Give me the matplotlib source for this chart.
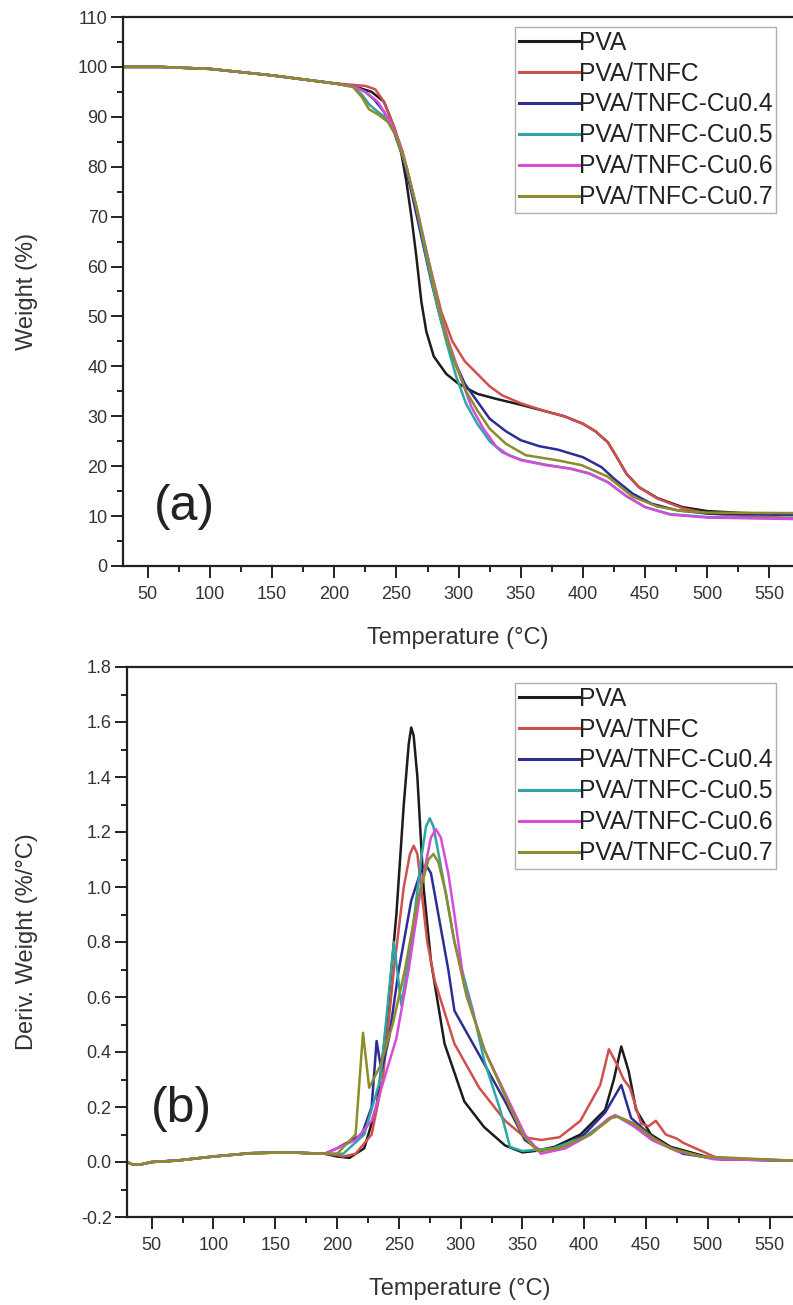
import numpy as np
import matplotlib
matplotlib.use('Agg')
import matplotlib.pyplot as plt
import matplotlib.ticker as ticker

plt.rcParams['font.family'] = ['Liberation Sans', 'DejaVu Sans']

#------------------------------------------------------------------------------
# Datos -----------------------------------------------------------------------

etiquetas = ['PVA', 'PVA/TNFC', 'PVA/TNFC-Cu0.4', 'PVA/TNFC-Cu0.5',
             'PVA/TNFC-Cu0.6', 'PVA/TNFC-Cu0.7']
colores = ['#1c1c1c', '#d0504f', '#2d2d96', '#2ea6a6', '#d84bd8', '#8c8c2a']

# TGA: tramo comun al inicio
T_ini = [30, 60, 100, 150, 200]
W_ini = [100, 100, 99.6, 98.3, 96.7]

T_pva = [215, 230, 240, 248, 253, 258, 262, 266, 270, 274, 280, 290, 300, 315, 330, 350, 370,
         385, 400, 410, 420, 428, 435, 445, 460, 480, 500, 530, 570]
W_pva = [96.2, 95, 93, 88, 84, 77, 70, 62, 53, 47, 42, 38.5, 36.5, 34.5, 33.5, 32.3, 31,
         30, 28.5, 27, 24.8, 21.5, 18.5, 15.8, 13.6, 11.8, 11, 10.6, 10.4]
T_tnfc = [215, 225, 233, 240, 248, 255, 262, 270, 278, 286, 295, 305, 315, 325, 335, 350, 370,
          385, 400, 410, 420, 428, 435, 445, 460, 480, 500, 530, 570]
W_tnfc = [96.4, 96.2, 95.5, 93, 88, 83, 76, 67, 59, 51, 45, 41, 38.5, 36, 34.2, 32.6, 31,
          30, 28.5, 27, 24.8, 21.5, 18.5, 15.8, 13.5, 11.6, 10.5, 10, 9.6]
T_cu04 = [215, 225, 232, 240, 248, 255, 262, 270, 278, 286, 295, 305, 315, 325, 338, 350, 365,
          380, 400, 415, 425, 440, 455, 475, 500, 570]
W_cu04 = [96.2, 95, 93.5, 91, 87, 82, 75, 66, 57, 49, 42, 36.5, 33, 29.5, 27, 25.2, 24,
          23.3, 21.8, 19.8, 17.5, 14.5, 12.5, 11.2, 10.5, 10.2]
T_cu05 = [215, 222, 228, 235, 243, 250, 258, 266, 274, 282, 290, 298, 306, 315, 325, 335, 350,
          370, 390, 405, 420, 435, 450, 470, 500, 570]
W_cu05 = [96, 94.5, 92.5, 91, 89.5, 86, 80, 72, 62, 53, 45, 38, 32.5, 28.5, 25, 22.8, 21.3,
          20.3, 19.5, 18.5, 16.8, 14, 11.8, 10.4, 9.8, 9.5]
T_cu06 = [215, 225, 235, 245, 252, 260, 268, 276, 284, 292, 300, 310, 320, 330, 340, 350, 370,
          390, 405, 420, 435, 450, 470, 500, 570]
W_cu06 = [96.2, 95, 93, 89, 85, 78, 70, 61, 52, 45, 39, 32, 27.5, 24, 22.2, 21.2, 20.2,
          19.5, 18.6, 16.8, 14, 11.8, 10.3, 9.7, 9.4]
T_cu07 = [215, 222, 228, 235, 243, 250, 258, 266, 274, 282, 290, 298, 306, 315, 325, 338, 354,
          379, 399, 420, 440, 460, 480, 500, 570]
W_cu07 = [96, 94, 91.5, 90.5, 89, 86, 80, 72, 63, 54, 46, 40, 35, 31.2, 27.5, 24.5, 22.2,
          21.2, 20.2, 17.9, 13.9, 11.9, 11, 10.7, 10.6]

# DTG: tramo comun al inicio
Td_ini = [30, 35, 40, 50, 70, 100, 130, 160, 190]
D_ini = [0.0, -0.01, -0.01, 0.0, 0.005, 0.02, 0.032, 0.035, 0.03]

Td_pva = [200, 210, 222, 232, 240, 248, 254, 258, 260, 262, 265, 270, 276, 287, 303, 319, 336,
          350, 360, 376, 397, 417, 424, 430, 436, 442, 454, 470, 500, 540, 570]
D_pva = [0.02, 0.015, 0.05, 0.2, 0.5, 0.9, 1.3, 1.52, 1.58, 1.55, 1.4, 1.0, 0.73, 0.43, 0.22,
         0.127, 0.06, 0.035, 0.04, 0.055, 0.1, 0.19, 0.3, 0.42, 0.33, 0.19, 0.1, 0.055, 0.018,
         0.008, 0.005]
Td_tnfc = [200, 205, 215, 228, 237, 246, 254, 259, 262, 265, 268, 273, 279, 295, 315, 336, 352,
           365, 380, 397, 413, 420, 426, 432, 437, 446, 452, 458, 466, 475, 480, 500, 510, 570]
D_tnfc = [0.025, 0.02, 0.03, 0.1, 0.3, 0.7, 1.0, 1.12, 1.15, 1.12, 1.0, 0.8, 0.66, 0.43, 0.27,
          0.15, 0.09, 0.08, 0.09, 0.15, 0.28, 0.41, 0.36, 0.3, 0.27, 0.14, 0.13, 0.15, 0.1,
          0.085, 0.07, 0.03, 0.01, 0.005]
Td_cu04 = [200, 220, 228, 232, 236, 242, 250, 260, 268, 272, 276, 282, 290, 295, 315, 336, 352,
           365, 385, 400, 417, 430, 438, 458, 480, 510, 570]
D_cu04 = [0.05, 0.1, 0.2, 0.44, 0.33, 0.45, 0.7, 0.95, 1.06, 1.08, 1.05, 0.9, 0.7, 0.55, 0.39,
          0.22, 0.08, 0.04, 0.06, 0.1, 0.18, 0.28, 0.16, 0.08, 0.03, 0.01, 0.005]
Td_cu05 = [205, 222, 235, 246, 252, 260, 268, 272, 275, 278, 283, 295, 310, 319, 332, 340, 350,
           375, 400, 418, 425, 440, 455, 475, 500, 570]
D_cu05 = [0.03, 0.1, 0.3, 0.8, 0.57, 0.8, 1.1, 1.22, 1.25, 1.22, 1.1, 0.8, 0.55, 0.37, 0.19,
          0.055, 0.04, 0.05, 0.09, 0.15, 0.17, 0.14, 0.08, 0.04, 0.015, 0.005]
Td_cu06 = [200, 215, 228, 238, 248, 258, 268, 276, 280, 284, 290, 295, 303, 319, 336, 352, 365,
           385, 405, 420, 425, 440, 455, 475, 505, 570]
D_cu06 = [0.05, 0.08, 0.15, 0.3, 0.45, 0.7, 1.0, 1.18, 1.21, 1.18, 1.05, 0.9, 0.64, 0.41, 0.25,
          0.1, 0.03, 0.05, 0.1, 0.16, 0.17, 0.13, 0.08, 0.04, 0.01, 0.005]
Td_cu07 = [200, 215, 221, 226, 235, 245, 255, 265, 274, 278, 282, 288, 295, 305, 320, 336, 350,
           362, 380, 405, 422, 427, 440, 455, 470, 495, 570]
D_cu07 = [0.03, 0.1, 0.47, 0.27, 0.35, 0.5, 0.7, 0.95, 1.1, 1.12, 1.09, 0.98, 0.8, 0.6, 0.4,
          0.24, 0.1, 0.04, 0.05, 0.1, 0.16, 0.165, 0.14, 0.09, 0.05, 0.02, 0.005]

tga_T = [T_pva, T_tnfc, T_cu04, T_cu05, T_cu06, T_cu07]
tga_W = [W_pva, W_tnfc, W_cu04, W_cu05, W_cu06, W_cu07]
dtg_T = [Td_pva, Td_tnfc, Td_cu04, Td_cu05, Td_cu06, Td_cu07]
dtg_D = [D_pva, D_tnfc, D_cu04, D_cu05, D_cu06, D_cu07]

#------------------------------------------------------------------------------
# Figura ----------------------------------------------------------------------

W_px, H_px = 793., 1305.
fig = plt.figure(figsize=(W_px / 100, H_px / 100), dpi=100)
ax1 = fig.add_axes([123 / W_px, 1 - 566 / H_px, 1 - 123 / W_px, (566 - 17) / H_px])
ax2 = fig.add_axes([127 / W_px, 1 - 1217 / H_px, 1 - 127 / W_px, (1217 - 667) / H_px])

gris = '#333333'

def formato(ax):
    ax.spines['right'].set_visible(False)
    for s in ['top', 'bottom', 'left']:
        ax.spines[s].set_linewidth(1.6)
        ax.spines[s].set_color('#222222')
    ax.tick_params(which='both', direction='out', top=False, right=False,
                   width=1.4, color='#222222', labelsize=13, labelcolor=gris)
    ax.tick_params(which='major', length=8.5)
    ax.tick_params(which='minor', length=4.5)
    ax.tick_params(axis='x', which='major', pad=6)
    ax.tick_params(axis='y', which='major', pad=2.5)
    ax.set_xlim(30, 569)
    ax.xaxis.set_major_locator(ticker.MultipleLocator(50))
    ax.xaxis.set_minor_locator(ticker.MultipleLocator(25))
    ax.set_xlabel(u'Temperature (°C)', fontsize=17, color=gris, labelpad=17)

for i in range(6):
    ax1.plot(T_ini + tga_T[i], W_ini + tga_W[i], color=colores[i], lw=1.8, label=etiquetas[i])
    ax2.plot(Td_ini + dtg_T[i], D_ini + dtg_D[i], color=colores[i], lw=1.8, label=etiquetas[i])

formato(ax1)
ax1.set_ylim(0, 110)
ax1.yaxis.set_major_locator(ticker.MultipleLocator(10))
ax1.yaxis.set_minor_locator(ticker.MultipleLocator(5))
ax1.set_ylabel('Weight (%)', fontsize=17, color=gris)
ax1.yaxis.set_label_coords(-0.127, 0.5)
ax1.text(0.092, 0.107, '(a)', transform=ax1.transAxes, fontsize=36,
         ha='center', va='center', color='#222222')

formato(ax2)
ax2.set_ylim(-0.2, 1.8)
ax2.yaxis.set_major_locator(ticker.MultipleLocator(0.2))
ax2.yaxis.set_minor_locator(ticker.MultipleLocator(0.1))
ax2.yaxis.set_major_formatter(ticker.FormatStrFormatter('%.1f'))
ax2.set_ylabel(u'Deriv. Weight (%/°C)', fontsize=17, color=gris)
ax2.yaxis.set_label_coords(-0.134, 0.5)
ax2.text(0.081, 0.196, '(b)', transform=ax2.transAxes, fontsize=36,
         ha='center', va='center', color='#222222')

for ax, top in [(ax1, 27), (ax2, 683)]:
    leg = ax.legend(loc='upper left', bbox_to_anchor=(515 / W_px, 1 - top / H_px),
                    bbox_transform=fig.transFigure, borderaxespad=0, fontsize=17.7,
                    handlelength=2.45, handletextpad=0.0, borderpad=0.15,
                    labelspacing=0.28, fancybox=False, framealpha=1)
    leg.get_frame().set_edgecolor('#b0b0b0')
    leg.get_frame().set_linewidth(1.0)
    for l in leg.get_lines():
        l.set_linewidth(2.2)
    for t in leg.get_texts():
        t.set_color('#222222')

plt.savefig('out.png', dpi=100)
plt.close('all')
